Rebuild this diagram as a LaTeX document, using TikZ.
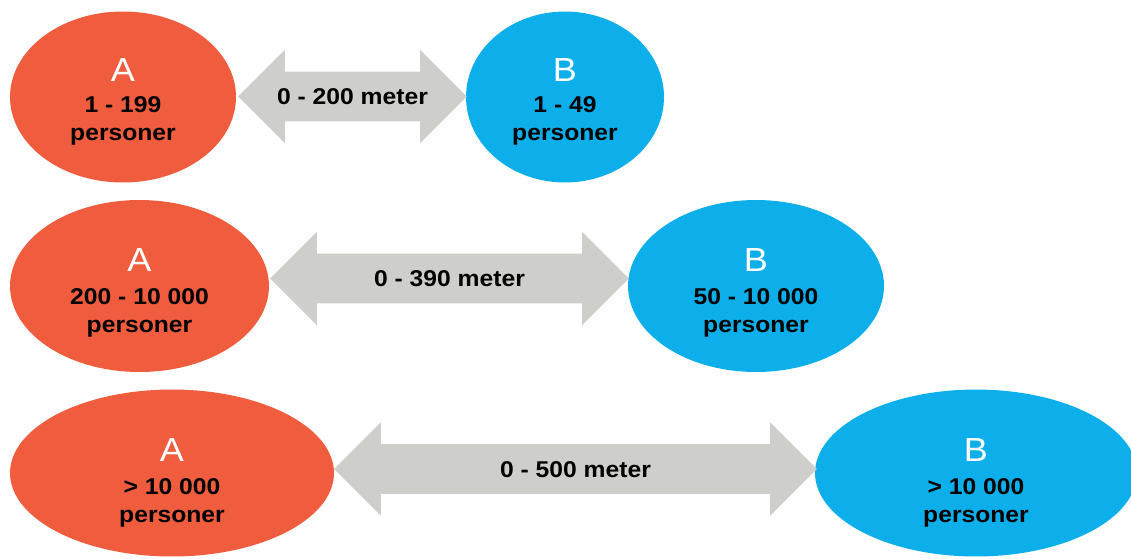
\documentclass[tikz,border=0pt]{standalone}
\usepackage{fontspec}
\setmainfont{Liberation Sans}[FakeStretch=1.08]
\usetikzlibrary{shapes.geometric,shapes.arrows}

\definecolor{sideA}{RGB}{240,92,62}
\definecolor{sideB}{RGB}{12,175,234}
\definecolor{distgray}{RGB}{206,206,202}

% white side letter, #1 = room kept above its baseline
\newcommand{\sidelabel}[2]{\rule{0pt}{#1}{\color{white}\fontsize{19}{19}\mdseries\selectfont #2}}

\begin{document}
\begin{tikzpicture}[
    x = 0.02cm, y = -0.02cm, % one unit is one pixel of the sketch
    inner sep = 0pt
    ]

    \tikzset{
    place/.style = {ellipse, align = center,
        font = \fontsize{13}{13}\selectfont\bfseries},
    placeA/.style = {place, fill = sideA},
    placeB/.style = {place, fill = sideB},
    dist/.style = {double arrow, double arrow head extend = 0.44cm,
        minimum width = 1.86cm, fill = distgray,
        text height = 9.3pt, text depth = 0pt, inner ysep = 9.25pt,
        font = \fontsize{13}{13}\selectfont\bfseries}
    }
    \useasboundingbox (0,0) rectangle (1131,558);
    \clip (0,0) rectangle (1131,558);

    % first row
    \node[placeA, minimum width = 4.52cm, minimum height = 3.42cm] (a1) at (123,97)
        {\sidelabel{18.6pt}{A}\\[5pt] 1 - 199\\[3pt] personer};
    \node[placeB, minimum width = 3.96cm, minimum height = 3.42cm] (b1) at (565,97)
        {\sidelabel{18.6pt}{B}\\[5pt] 1 - 49\\[3pt] personer};
    \node[dist, minimum height = 4.58cm] (d1) at (352.5,96.5) {0 - 200 meter};

    % second row
    \node[placeA, minimum width = 5.18cm, minimum height = 3.44cm] (a2) at (139.5,286)
        {\sidelabel{20.8pt}{A}\\[6pt] 200 - 10 000\\[3pt] personer};
    \node[placeB, minimum width = 5.12cm, minimum height = 3.44cm] (b2) at (756,286)
        {\sidelabel{20.8pt}{B}\\[6pt] 50 - 10 000\\[3pt] personer};
    \node[dist, minimum height = 7.18cm] (d2) at (449.5,278.5) {0 - 390 meter};

    % third row
    \node[placeA, minimum width = 6.48cm, minimum height = 3.34cm] (a3) at (172,473)
        {\sidelabel{24.2pt}{A}\\[6pt] > 10 000\\[3pt] personer};
    \node[placeB, minimum width = 6.44cm, minimum height = 3.34cm] (b3) at (976,473)
        {\sidelabel{24.2pt}{B}\\[6pt] > 10 000\\[3pt] personer};
    \node[dist, minimum height = 9.66cm] (d3) at (575.5,469) {0 - 500 meter};
\end{tikzpicture}
\end{document}
